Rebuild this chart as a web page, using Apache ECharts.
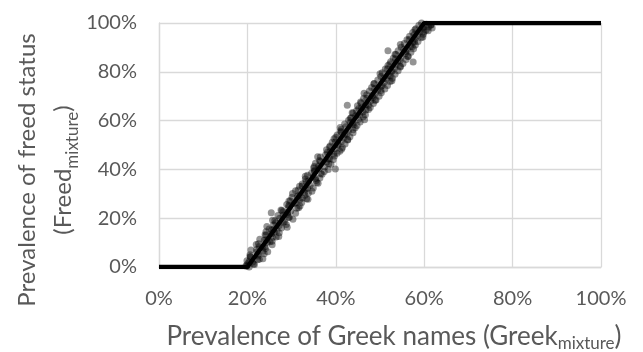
<!DOCTYPE html>
<html>
<head>
<meta charset="utf-8">
<script src="https://cdn.jsdelivr.net/npm/echarts@6/dist/echarts.min.js"></script>
<style>
  html, body { margin: 0; padding: 0; background: #fff; }
  #chart { width: 643px; height: 352px; }
</style>
</head>
<body>
<div id="chart"></div>
<script>
// Ticks shared by both axes (percent)
const tickValues = [0, 20, 40, 60, 80, 100];

// Threshold model: freed share as a function of Greek-name share
const modelGreek = [0, 20, 60, 100];
const modelFreed = [0, 0, 100, 100];

// Simulated communities, first batch: Greek-name prevalence (x) and freed prevalence (y), in percent
const simGreekA = [
  20.4, 19.7, 21.6, 20.1, 21.2, 19.9, 22.3, 23.5, 20.7, 22.4, 20.6, 23.8, 22.1, 23.5, 20.8, 24.1,
  23.4, 22.7, 25.6, 22.5, 24.5, 25.6, 23.8, 22.8, 25.7, 27.1, 24.2, 25.5, 27.2, 24.2, 26.7, 25.9,
  27.7, 24.4, 27.2, 28.8, 26.4, 28.4, 26.2, 30.3, 27.3, 29.5, 26.9, 29.1, 30.9, 28.1, 29.8, 27.6,
  31.2, 29.3, 31.9, 28.9, 30.6, 32.3, 29.4, 31.8, 33.4, 30.1, 31.3, 33.0, 30.2, 32.9, 34.6, 31.5,
  33.1, 34.9, 31.8, 34.2, 32.4, 35.7, 33.3, 35.5, 33.1, 36.4, 34.9, 33.6, 36.9, 34.5, 37.4, 35.2,
  38.3, 35.0, 37.5, 36.1, 38.9, 35.4, 37.9, 36.3, 39.4, 38.6, 36.5, 39.7, 37.7, 40.3, 38.1, 40.9,
  37.9, 39.8, 41.5, 38.7, 40.6, 42.1, 39.2, 41.3, 42.7, 39.6, 41.8, 43.2, 40.3, 42.5, 43.9, 41.1,
  42.9, 41.2, 44.4, 42.3, 44.8, 42.0, 43.9, 45.5, 42.9, 45.1, 43.3, 46.2, 44.5, 46.7, 43.9, 46.1,
  44.7, 47.4, 45.2, 47.8, 44.9, 46.8, 48.5, 45.6, 47.9, 49.1, 46.3, 48.4, 49.8, 47.0, 48.9, 50.3,
  47.6, 49.5, 51.1, 48.1, 50.2, 51.7, 48.6, 50.9, 52.3, 49.5, 51.4, 52.8, 50.2, 51.9, 53.4, 50.5,
  52.6, 54.1, 51.2, 53.3, 54.6, 51.8, 53.7, 55.2, 52.4, 54.5, 55.9, 53.0, 54.8, 56.3, 53.6, 55.7,
  57.0, 54.1, 56.2, 57.6, 54.8, 56.9, 58.0, 55.5, 57.4, 58.6, 56.1, 57.9, 59.3, 56.7, 58.5, 59.8,
  57.4, 59.0, 60.4, 58.1, 59.6, 61.0, 58.8, 60.5, 59.4,
  25.4, 39.9, 42.6, 51.8, 57.5, 61.8, 60.9, 61.5, 24.9, 33.7
];
const simFreedA = [
  0.0, 0.6, 1.0, 1.4, 2.0, 2.6, 3.0, 3.4, 4.1, 4.5, 5.0, 5.4, 6.1, 6.5, 7.0, 7.6,
  8.0, 8.4, 9.1, 9.5, 10.0, 10.6, 11.0, 11.4, 12.1, 12.5, 13.0, 13.6, 14.0, 14.4, 15.1, 15.5,
  16.0, 16.6, 17.0, 17.4, 18.1, 18.5, 19.0, 19.6, 20.0, 20.4, 21.1, 21.5, 22.0, 22.6, 23.0, 23.4,
  24.1, 24.5, 25.0, 25.6, 26.0, 26.4, 27.1, 27.5, 28.0, 28.6, 29.0, 29.4, 30.1, 30.5, 31.0, 31.6,
  32.0, 32.4, 33.1, 33.5, 34.0, 34.6, 35.0, 35.4, 36.1, 36.5, 37.0, 37.6, 38.0, 38.4, 39.1, 39.5,
  40.0, 40.6, 41.0, 41.4, 42.1, 42.5, 43.0, 43.6, 44.0, 44.4, 45.1, 45.5, 46.0, 46.6, 47.0, 47.4,
  48.1, 48.5, 49.0, 49.6, 50.0, 50.4, 51.1, 51.5, 52.0, 52.6, 53.0, 53.4, 54.1, 54.5, 55.0, 55.6,
  56.0, 56.4, 57.1, 57.5, 58.0, 58.6, 59.0, 59.4, 60.1, 60.5, 61.0, 61.6, 62.0, 62.4, 63.1, 63.5,
  64.0, 64.6, 65.0, 65.4, 66.1, 66.5, 67.0, 67.6, 68.0, 68.4, 69.1, 69.5, 70.0, 70.6, 71.0, 71.4,
  72.1, 72.5, 73.0, 73.6, 74.0, 74.4, 75.1, 75.5, 76.0, 76.6, 77.0, 77.4, 78.1, 78.5, 79.0, 79.6,
  80.0, 80.4, 81.1, 81.5, 82.0, 82.6, 83.0, 83.4, 84.1, 84.5, 85.0, 85.6, 86.0, 86.4, 87.1, 87.5,
  88.0, 88.6, 89.0, 89.4, 90.1, 90.5, 91.0, 91.6, 92.0, 92.4, 93.1, 93.5, 94.0, 94.6, 95.0, 95.4,
  96.1, 96.5, 97.0, 97.6, 98.0, 98.4, 99.1, 99.5, 100.0,
  22.2, 40.2, 66.3, 88.6, 84.0, 98.0, 96.8, 99.2, 15.6, 27.8
];

// Second batch of simulated communities
const simGreekB = [
  19.8, 21.4, 20.4, 22.7, 20.6, 22.4, 24.6, 22.1, 23.9, 22.0, 25.1, 24.3, 26.5, 24.0, 26.1, 25.5,
  29.0, 25.9, 28.1, 25.7, 29.3, 28.1, 29.1, 27.8, 31.6, 29.4, 31.0, 29.7, 32.4, 31.6, 33.8, 30.9,
  33.6, 32.4, 36.0, 33.8, 35.4, 33.1, 36.6, 35.2, 36.2, 35.1, 38.4, 36.5, 38.3, 35.9, 39.5, 38.7,
  41.3, 38.6, 40.5, 39.9, 42.7, 40.0, 42.0, 41.2, 43.9, 41.0, 44.0, 43.3, 46.5, 43.5, 45.4, 43.7,
  46.8, 45.8, 47.4, 45.7, 48.9, 47.0, 48.3, 46.4, 50.2, 48.8, 50.5, 48.7, 52.7, 50.8, 52.3, 50.0,
  52.7, 51.7, 54.6, 52.2, 54.0, 53.5, 56.4, 53.4, 55.8, 55.4, 57.3, 54.6, 57.8, 56.6, 59.7, 57.7,
  59.9, 57.9, 59.9, 61.5
];
const simFreedB = [
  0.3, 1.2, 2.3, 3.2, 4.3, 5.2, 6.3, 7.2, 8.3, 9.2, 10.3, 11.2, 12.3, 13.2, 14.3, 15.2,
  16.3, 17.2, 18.3, 19.2, 20.3, 21.2, 22.3, 23.2, 24.3, 25.2, 26.3, 27.2, 28.3, 29.2, 30.3, 31.2,
  32.3, 33.2, 34.3, 35.2, 36.3, 37.2, 38.3, 39.2, 40.3, 41.2, 42.3, 43.2, 44.3, 45.2, 46.3, 47.2,
  48.3, 49.2, 50.3, 51.2, 52.3, 53.2, 54.3, 55.2, 56.3, 57.2, 58.3, 59.2, 60.3, 61.2, 62.3, 63.2,
  64.3, 65.2, 66.3, 67.2, 68.3, 69.2, 70.3, 71.2, 72.3, 73.2, 74.3, 75.2, 76.3, 77.2, 78.3, 79.2,
  80.3, 81.2, 82.3, 83.2, 84.3, 85.2, 86.3, 87.2, 88.3, 89.2, 90.3, 91.2, 92.3, 93.2, 94.3, 95.2,
  96.3, 97.2, 98.3, 99.2
];

const FONT = 'Lato';
const TEXT = '#595959';
const GRID = '#d9d9d9';
const chart = echarts.init(document.getElementById('chart'), null, { renderer: 'canvas' });

const pct = v => v + '%';
const pairs = (xs, ys) => xs.map((x, i) => [x, ys[i]]);

const dotStyle = { color: '#000000', opacity: 0.42 };

chart.setOption({
  animation: false,
  backgroundColor: '#ffffff',
  grid: { left: 159, right: 42, top: 23, bottom: 85, containLabel: false },
  xAxis: {
    type: 'value', min: 0, max: 100, interval: 20,
    axisLine: { show: true, lineStyle: { color: GRID, width: 1.3 } },
    axisTick: { show: false },
    splitLine: { show: true, lineStyle: { color: GRID, width: 1.3 } },
    axisLabel: {
      color: TEXT, fontFamily: FONT, fontSize: 20, margin: 22,
      formatter: v => tickValues.includes(v) ? pct(v) : ''
    }
  },
  yAxis: {
    type: 'value', min: 0, max: 100, interval: 20,
    axisLine: { show: true, lineStyle: { color: GRID, width: 1.3 } },
    axisTick: { show: false },
    splitLine: { show: true, lineStyle: { color: GRID, width: 1.3 } },
    axisLabel: {
      color: TEXT, fontFamily: FONT, fontSize: 20, margin: 22,
      formatter: v => tickValues.includes(v) ? pct(v) : ''
    }
  },
  series: [
    {
      type: 'scatter',
      data: pairs(simGreekA, simFreedA),
      symbol: 'circle',
      symbolSize: 7,
      itemStyle: dotStyle,
      z: 2
    },
    {
      type: 'scatter',
      data: pairs(simGreekB, simFreedB),
      symbol: 'circle',
      symbolSize: 7,
      itemStyle: dotStyle,
      z: 2
    },
    {
      type: 'line',
      data: pairs(modelGreek, modelFreed),
      showSymbol: false,
      symbol: 'none',
      lineStyle: { color: '#000000', width: 4.5 },
      z: 3
    }
  ],
  graphic: [
    {
      type: 'text',
      x: 394, y: 337,
      style: {
        text: '{a|Prevalence of Greek names (Greek}{s|mixture}{a|)}',
        fill: TEXT,
        align: 'center',
        verticalAlign: 'middle',
        rich: {
          a: { fontFamily: FONT, fontSize: 26, fill: TEXT, lineHeight: 30 },
          s: { fontFamily: FONT, fontSize: 17, fill: TEXT, lineHeight: 17, verticalAlign: 'bottom' }
        }
      }
    },
    {
      type: 'text',
      x: 45, y: 170,
      rotation: Math.PI / 2,
      style: {
        text: '{a|Prevalence of freed status}\n{a|(Freed}{s|mixture}{a|)}',
        fill: TEXT,
        align: 'center',
        verticalAlign: 'middle',
        rich: {
          a: { fontFamily: FONT, fontSize: 24, fill: TEXT, lineHeight: 36 },
          s: { fontFamily: FONT, fontSize: 17, fill: TEXT, lineHeight: 17, verticalAlign: 'bottom' }
        }
      }
    }
  ]
});
</script>
</body>
</html>
